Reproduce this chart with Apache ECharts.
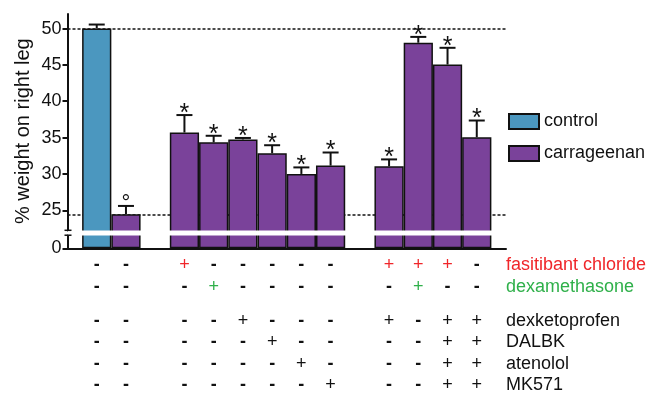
<!DOCTYPE html>
<html>
<head>
<meta charset="utf-8">
<script src="https://cdn.jsdelivr.net/npm/echarts@6/dist/echarts.min.js"></script>
<style>
  html, body { margin: 0; padding: 0; background: #fff; }
  #chart { width: 653px; height: 394px; }
</style>
</head>
<body>
<div id="chart"></div>
<script>
// Bars in drawing order (left to right)
const barGroup = ['control', 'carrageenan', 'carrageenan', 'carrageenan', 'carrageenan', 'carrageenan',
  'carrageenan', 'carrageenan', 'carrageenan', 'carrageenan', 'carrageenan', 'carrageenan'];
const meanWeight = [50.0, 24.45, 35.7, 34.35, 34.75, 32.85, 30.0, 31.15, 31.05, 48.05, 45.05, 35.05];
const semWeight = [0.55, 1.15, 2.4, 0.9, 0.2, 1.1, 0.9, 1.8, 0.95, 0.8, 2.3, 2.3];
const significance = ['', '°', '*', '*', '*', '*', '*', '*', '*', '*', '*', '*'];
// Empty slots are inserted after these bar indices to separate the groups
const groupEnds = [1, 7];

// Treatment table under the bars
const treatmentNames = ['fasitibant chloride', 'dexamethasone', 'dexketoprofen', 'DALBK', 'atenolol', 'MK571'];
const treatmentColors = ['#f0262a', '#2fb04a', '#111', '#111', '#111', '#111'];
const fasitibant    = ['-', '-', '+', '-', '-', '-', '-', '-', '+', '+', '+', '-'];
const dexamethasone = ['-', '-', '-', '+', '-', '-', '-', '-', '-', '+', '-', '-'];
const dexketoprofen = ['-', '-', '-', '-', '+', '-', '-', '-', '+', '-', '+', '+'];
const dalbk         = ['-', '-', '-', '-', '-', '+', '-', '-', '-', '-', '+', '+'];
const atenolol      = ['-', '-', '-', '-', '-', '-', '+', '-', '-', '-', '+', '+'];
const mk571         = ['-', '-', '-', '-', '-', '-', '-', '+', '-', '-', '+', '+'];
const treatmentRows = [fasitibant, dexamethasone, dexketoprofen, dalbk, atenolol, mk571];

const yTicks = [0, 25, 30, 35, 40, 45, 50];
const referenceLines = [50, 24.45];
const axisBreak = { start: 1.8, end: 22.25 };

const FONT = 'Liberation Sans, Arial, Helvetica, sans-serif';
const INK = '#111';
const colors = { control: '#4b97bf', carrageenan: '#7a429a' };

// Map each bar to a slot on the category axis (leading, gap and trailing slots stay empty)
const slotOfBar = [];
let slot = 1;
meanWeight.forEach((_, i) => {
  slotOfBar.push(slot);
  slot += groupEnds.includes(i) ? 2 : 1;
});
const slotCount = slot + 1;

// Rich-text label per slot: one line per treatment row
const plusStyle = ['r', 'g', 'p', 'p', 'p', 'p'];
function columnLabel(b) {
  const lines = treatmentRows.map((row, r) => row[b] === '+' ? '{' + plusStyle[r] + '|+}' : '{m|-}');
  return [lines[0], lines[1], '{sp| }', lines[2], lines[3], lines[4], lines[5]].join('\n');
}
function nameLabel() {
  const st = ['nr', 'ng', 'n', 'n', 'n', 'n'];
  const lines = treatmentNames.map((n, r) => '{' + st[r] + '|' + n + '}');
  return [lines[0], lines[1], '{sp| }', lines[2], lines[3], lines[4], lines[5]].join('\n');
}
const categories = [];
for (let s = 0; s < slotCount; s++) categories.push({ value: '' });
slotOfBar.forEach((s, b) => { categories[s] = { value: columnLabel(b) }; });
categories[slotCount - 1] = { value: nameLabel(), textStyle: { align: 'left' } };

function seriesValues(group) {
  const arr = new Array(slotCount).fill('-');
  slotOfBar.forEach((s, b) => { if (barGroup[b] === group) arr[s] = meanWeight[b]; });
  return arr;
}

const rowH = 21.5;
const rich = {
  m:  { fontFamily: FONT, fontSize: 18, fontWeight: 'bold', color: INK, lineHeight: rowH },
  p:  { fontFamily: FONT, fontSize: 18, color: INK, lineHeight: rowH },
  r:  { fontFamily: FONT, fontSize: 18, color: treatmentColors[0], lineHeight: rowH },
  g:  { fontFamily: FONT, fontSize: 18, color: treatmentColors[1], lineHeight: rowH },
  n:  { fontFamily: FONT, fontSize: 18, color: INK, lineHeight: rowH },
  nr: { fontFamily: FONT, fontSize: 18, color: treatmentColors[0], lineHeight: rowH },
  ng: { fontFamily: FONT, fontSize: 18, color: treatmentColors[1], lineHeight: rowH },
  sp: { fontFamily: FONT, fontSize: 10, lineHeight: 12.5 }
};

const errorData = meanWeight.map((m, b) => [slotOfBar[b], m, semWeight[b]]);

const chart = echarts.init(document.getElementById('chart'), null, { renderer: 'canvas' });
chart.setOption({
  animation: false,
  backgroundColor: '#fff',
  textStyle: { fontFamily: FONT },
  grid: { left: 67.5, right: 147, top: 14, bottom: 145.7, containLabel: false, outerBoundsMode: 'none' },
  legend: {
    orient: 'vertical',
    left: 503,
    top: 107.5,
    padding: 5,
    itemWidth: 30,
    itemHeight: 15,
    itemGap: 14,
    icon: 'rect',
    selectedMode: false,
    data: ['control', 'carrageenan'],
    textStyle: { fontFamily: FONT, fontSize: 18, color: INK }
  },
  xAxis: {
    type: 'category',
    data: categories,
    boundaryGap: false,
    axisLine: { lineStyle: { color: INK, width: 2 } },
    axisTick: { show: false },
    axisLabel: {
      interval: 0,
      margin: 6,
      verticalAlign: 'top',
      hideOverlap: false,
      rich: rich,
      fontFamily: FONT,
      fontSize: 18,
      color: INK
    },
    splitLine: { show: false }
  },
  yAxis: {
    type: 'value',
    min: 0,
    max: 52,
    interval: 5,
    name: '% weight on right leg',
    nameLocation: 'middle',
    nameRotate: 90,
    nameGap: 34,
    nameMoveOverlap: false,
    nameTextStyle: { fontFamily: FONT, fontSize: 20, color: INK },
    breaks: [{ start: axisBreak.start, end: axisBreak.end, gap: '2.1%' }],
    breakArea: {
      show: true,
      itemStyle: { color: '#fff', borderColor: '#fff', borderWidth: 0, opacity: 1 },
      zigzagAmplitude: 0,
      zigzagZ: 100,
      expandOnClick: false
    },
    axisLine: { show: true, lineStyle: { color: INK, width: 2 } },
    axisTick: { show: true, length: 5, lineStyle: { color: INK, width: 2 }, customValues: yTicks },
    axisLabel: { margin: 6, fontFamily: FONT, fontSize: 18, color: INK, customValues: yTicks },
    splitLine: { show: false }
  },
  series: [
    {
      name: 'control',
      type: 'bar',
      data: seriesValues('control'),
      barWidth: '100%',
      barGap: '-100%',
      z: 10,
      itemStyle: { color: colors.control, borderColor: INK, borderWidth: 1.5 }
    },
    {
      name: 'carrageenan',
      type: 'bar',
      data: seriesValues('carrageenan'),
      barWidth: '100%',
      barGap: '-100%',
      z: 10,
      itemStyle: { color: colors.carrageenan, borderColor: INK, borderWidth: 1.5 },
      markLine: {
        silent: true,
        z: 1,
        symbol: ['none', 'none'],
        label: { show: false },
        lineStyle: { color: INK, type: [3, 2], width: 1.5 },
        data: referenceLines.map(v => ({ yAxis: v }))
      }
    },
    {
      name: 'sem',
      type: 'custom',
      z: 12,
      data: errorData,
      renderItem: function (params, api) {
        const x = api.value(0), m = api.value(1), e = api.value(2);
        const base = api.coord([x, m]);
        const top = api.coord([x, m + e]);
        const mark = significance[params.dataIndex];
        const st = { stroke: INK, lineWidth: 2 };
        const children = [
          { type: 'line', shape: { x1: base[0], y1: base[1], x2: top[0], y2: top[1] }, style: st },
          { type: 'line', shape: { x1: top[0] - 8, y1: top[1], x2: top[0] + 8, y2: top[1] }, style: st }
        ];
        if (mark) {
          const isStar = mark === '*';
          children.push({
            type: 'text',
            x: top[0],
            y: top[1] - (isStar ? 1 : 2),
            style: {
              text: mark,
              fill: INK,
              font: (isStar ? '25px ' : '22px ') + FONT,
              align: 'center',
              verticalAlign: 'middle'
            }
          });
        }
        return { type: 'group', children: children };
      }
    }
  ]
});

// Short end caps on the y axis line where it is broken
const axisX = chart.convertToPixel({ xAxisIndex: 0 }, 0);
const capYs = [axisBreak.start, axisBreak.end].map(v => chart.convertToPixel({ yAxisIndex: 0 }, v));
chart.setOption({
  graphic: capYs.map(y => ({
    type: 'line',
    z: 200,
    shape: { x1: axisX - 3, y1: y, x2: axisX + 4, y2: y },
    style: { stroke: INK, lineWidth: 1.5 }
  }))
});
</script>
</body>
</html>
